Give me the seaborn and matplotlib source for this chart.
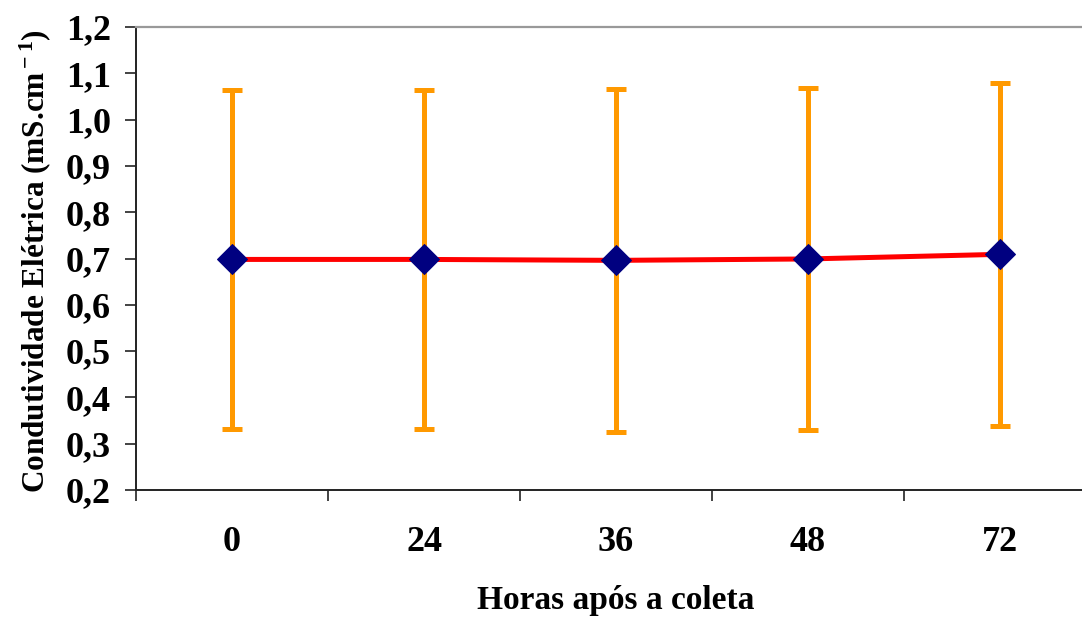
import matplotlib
matplotlib.use("Agg")
import matplotlib.pyplot as plt
import seaborn as sns
import pandas as pd
import numpy as np

# Data: electrical conductivity over time after collection
horas = ["0", "24", "36", "48", "72"]
media = [0.698, 0.698, 0.696, 0.699, 0.709]
desvio = [0.367, 0.367, 0.370, 0.369, 0.370]
yticks = [0.2, 0.3, 0.4, 0.5, 0.6, 0.7, 0.8, 0.9, 1.0, 1.1, 1.2]

sns.set_style("white")
plt.rcParams["font.family"] = ["Liberation Serif", "DejaVu Serif"]
plt.rcParams["font.weight"] = "bold"
plt.rcParams["text.color"] = "black"
plt.rcParams["axes.labelcolor"] = "black"
plt.rcParams["xtick.color"] = "black"
plt.rcParams["ytick.color"] = "black"
plt.rcParams["mathtext.fontset"] = "custom"
plt.rcParams["mathtext.rm"] = "Liberation Serif:bold"
plt.rcParams["mathtext.it"] = "Liberation Serif:bold"
plt.rcParams["mathtext.bf"] = "Liberation Serif:bold"

df = pd.DataFrame({"pos": np.arange(len(horas)), "media": media, "desvio": desvio})

fig = plt.figure(figsize=(10.82, 6.17), dpi=100)
ax = fig.add_axes([136 / 1082, 127 / 617, 960 / 1082, 463 / 617])

ax.errorbar(df["pos"], df["media"], yerr=df["desvio"], fmt="none",
            ecolor="#FF9900", elinewidth=3.6, capsize=7.2, capthick=3.6,
            zorder=2)
sns.lineplot(data=df, x="pos", y="media", ax=ax, color="#FF0000",
             linewidth=3.6, marker="D", markersize=15,
             markerfacecolor="#000080", markeredgecolor="#000080",
             zorder=3)

ax.set_xlim(-0.5, len(horas) - 0.5)
ax.set_ylim(0.2, 1.2)

# category boundaries carry the tick marks, labels sit at the centres
ax.set_xticks(np.arange(len(horas) + 1) - 0.5)
ax.set_xticklabels([])
ax.set_xticks(np.arange(len(horas)), minor=True)
ax.set_xticklabels(horas, minor=True)
ax.tick_params(axis="x", which="major", direction="out", length=8,
               width=1.2, color="#222222", bottom=True)
ax.tick_params(axis="x", which="minor", length=0, pad=26, labelsize=26,
               labelcolor="black")

ax.set_yticks(yticks)
ax.set_yticklabels([f"{v:.1f}".replace(".", ",") for v in yticks])
ax.tick_params(axis="y", direction="out", length=8, width=1.2,
               color="#222222", left=True, labelsize=26, pad=10,
               labelcolor="black")

for lab in ax.get_xticklabels(minor=True) + ax.get_yticklabels():
    lab.set_fontweight("bold")

ax.set_xlabel("Horas após a coleta", fontsize=24, fontweight="bold",
              va="center", color="black")
ax.xaxis.set_label_coords(0.5, -0.238)
ax.set_ylabel(r"Condutividade Elétrica (mS.cm$^{\rm -1}$)", fontsize=22.5,
              fontweight="bold", va="center", color="black")
ax.yaxis.set_label_coords(-0.105, 0.495)

for side in ["left", "bottom"]:
    ax.spines[side].set_color("#222222")
    ax.spines[side].set_linewidth(1.4)
ax.spines["top"].set_color("#999999")
ax.spines["top"].set_linewidth(1.6)
ax.spines["right"].set_visible(False)

fig.savefig("out.png", dpi=100)
